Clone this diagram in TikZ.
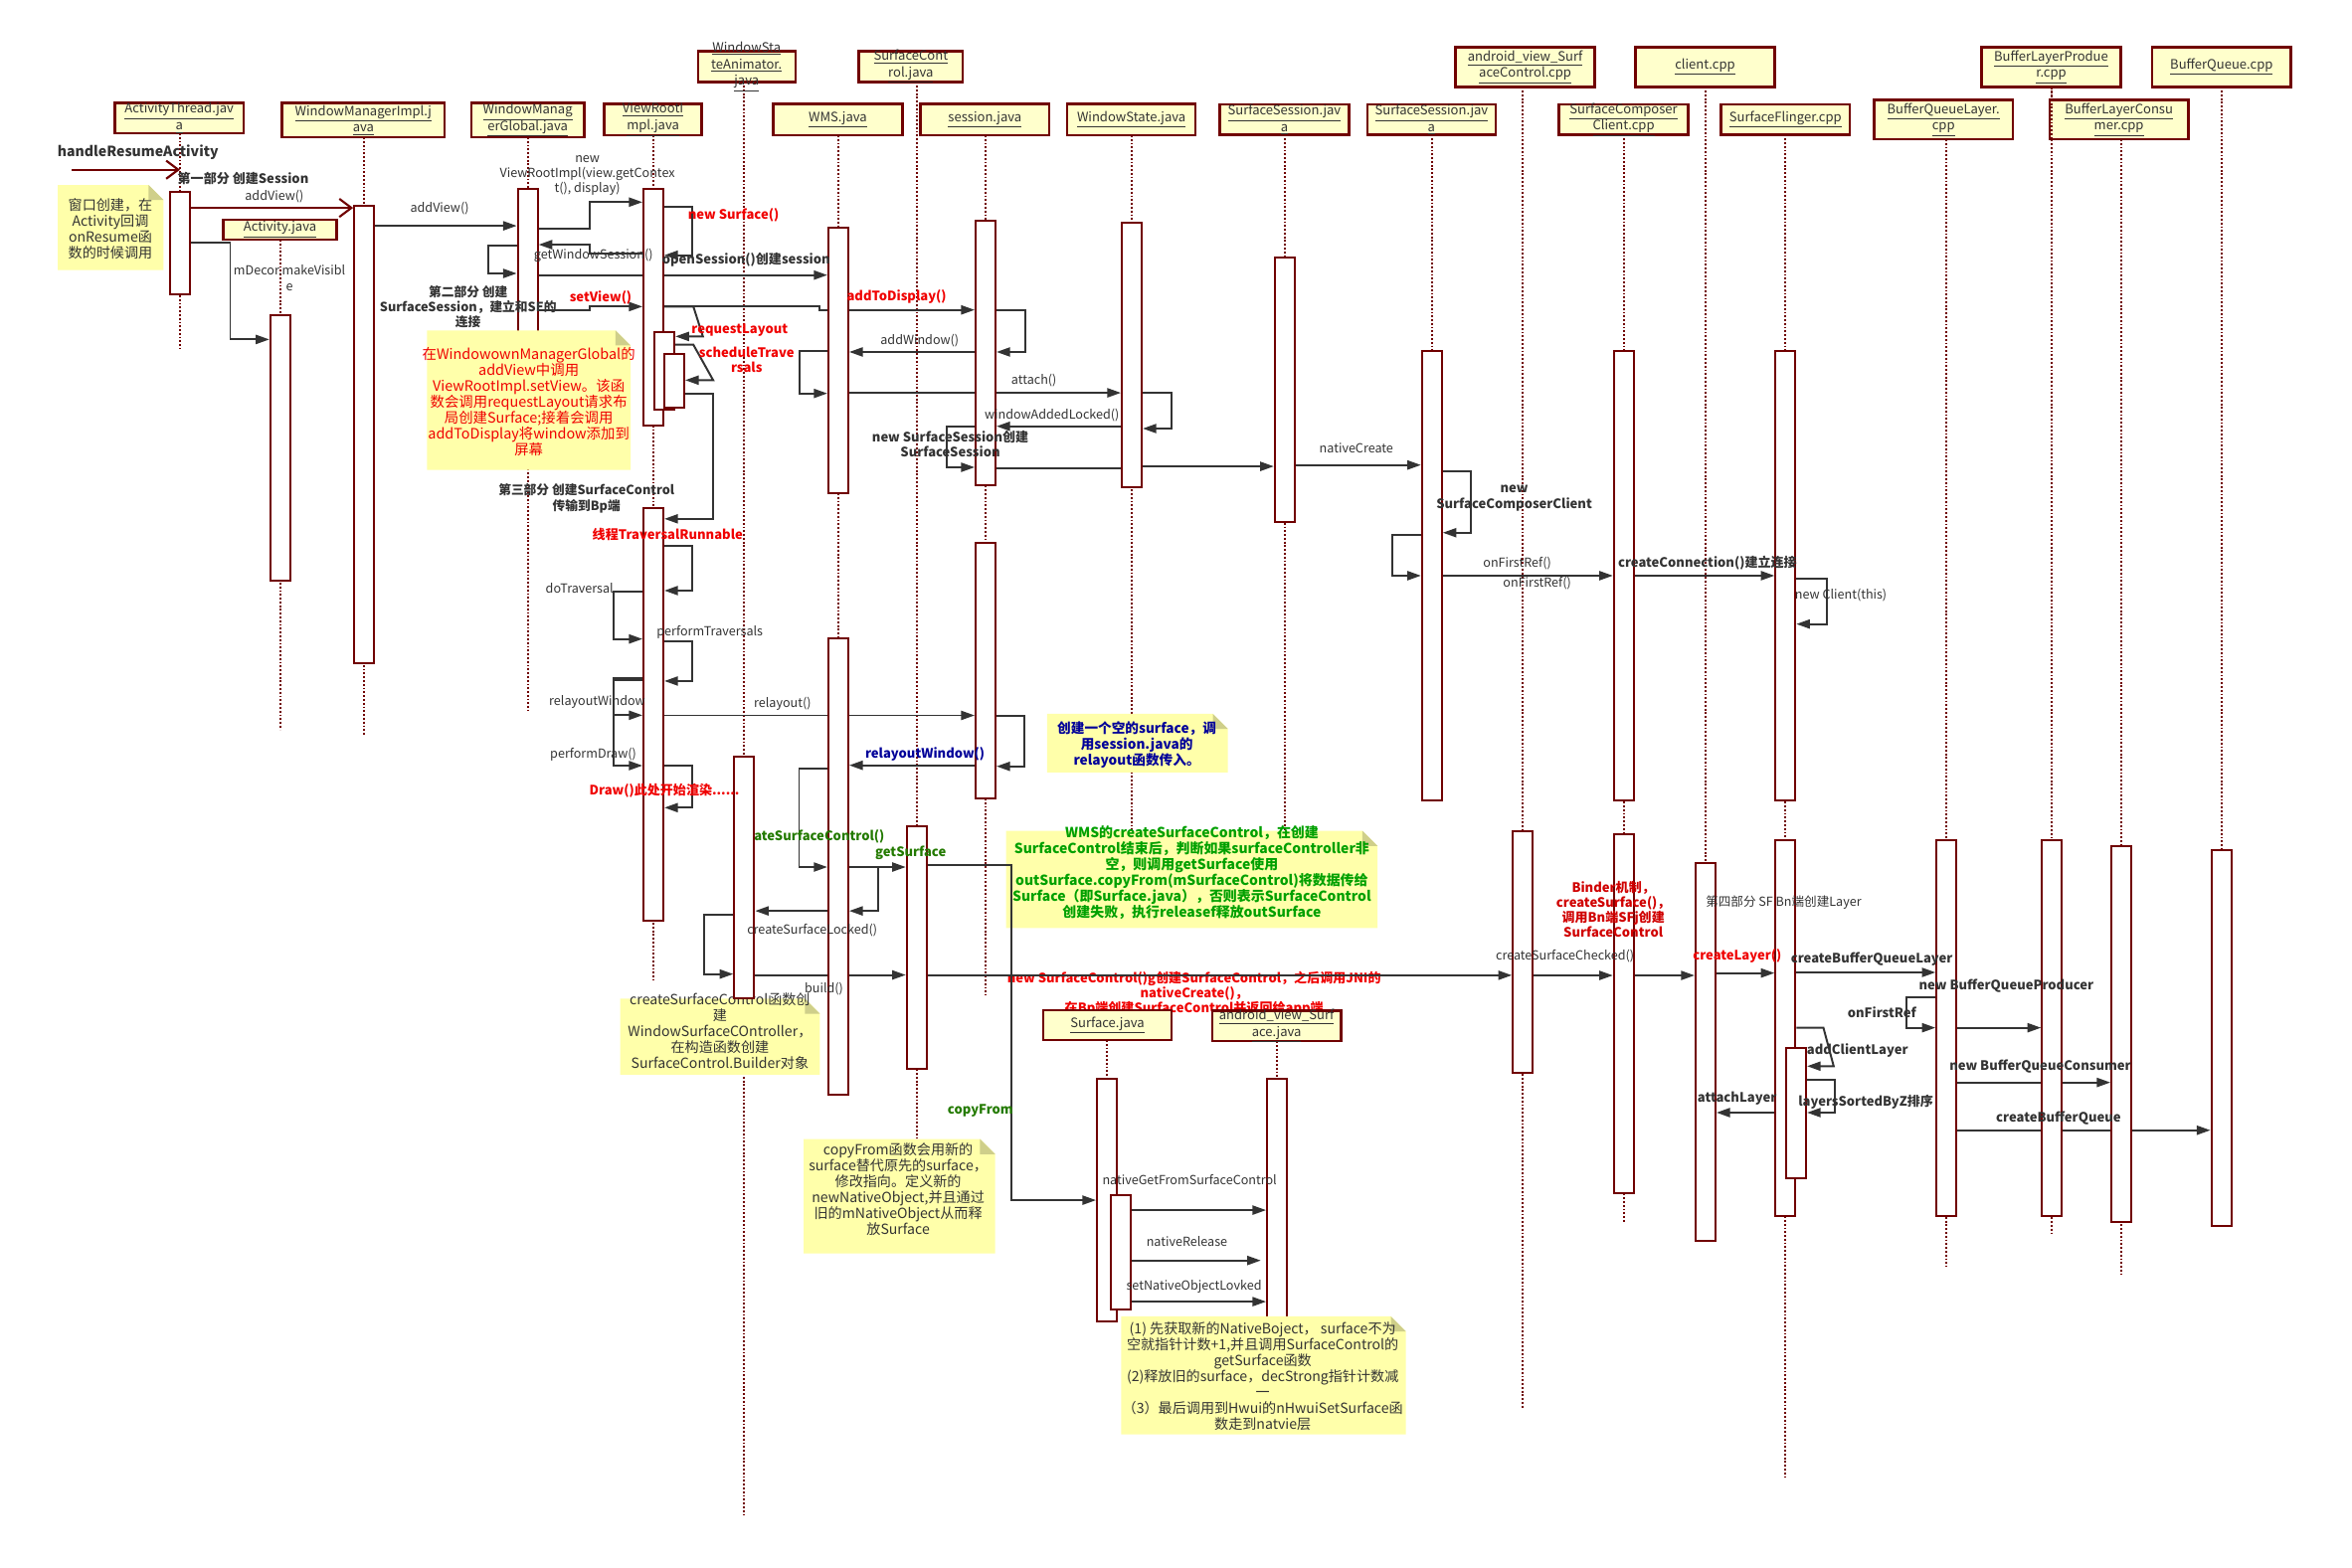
\documentclass[tikz,border=0pt]{standalone}
\usepackage{fontspec}
\setmainfont{Noto Sans CJK SC}
\usetikzlibrary{arrows.meta}
\definecolor{mr}{HTML}{700000}
\definecolor{ln}{HTML}{333333}
\definecolor{hfill}{HTML}{FFFFCC}
\definecolor{nfill}{HTML}{FFFFAA}
\definecolor{nfold}{HTML}{CFCF8A}
\definecolor{rd}{HTML}{F00000}
\definecolor{drd}{HTML}{D00000}
\definecolor{gn}{HTML}{237A00}
\definecolor{ngn}{HTML}{00A000}
\definecolor{bl}{HTML}{000099}
\newcommand\uln[1]{\underline{#1}}
\newcommand\actv[4]{\node[act,minimum height={(#4)-(#3)}] (#1) at (#2,{((#3)+(#4))/2}) {};}
\newcommand\hdr[6]{\node[hdrbox,minimum width={(#4)-(#2)},minimum height={(#5)-(#3)}] (#1) at ({((#2)+(#4))/2},{((#3)+(#5))/2}) {};\node[hdrtxt] (#1t) at (#1.center) {#6};}
\newcommand\notebox[4]{\fill[nfill] (#1,#2) -- ({(#3)-10},#2) -- (#3,{(#2)+10}) -- (#3,#4) -- (#1,#4) -- cycle; \fill[nfold] ({(#3)-10},#2) -- ({(#3)-10},{(#2)+10}) -- (#3,{(#2)+10}) -- cycle;}
\begin{document}
\begin{tikzpicture}[x=1pt,y=-1pt,
 life/.style={draw=mr,line width=1.2pt,dash pattern=on 1.2pt off 1.3pt},
 act/.style={draw=mr,fill=white,line width=1.3pt,minimum width=13.2pt,inner sep=0pt},
 hdrbox/.style={draw=mr,fill=hfill,line width=1.6pt,inner sep=0pt},
 hdrtxt/.style={text=ln,font=\fontsize{8.6}{11}\selectfont,align=center,inner sep=0pt},
 msg/.style={draw=ln,line width=1.3pt,-{Triangle[length=9pt,width=6pt]}},
 omsg/.style={draw=mr,line width=1.4pt,-{Straight Barb[length=8pt,width=12pt]}},
 lbl/.style={text=ln,font=\fontsize{8.3}{9.8}\selectfont,align=center,inner sep=0pt},
 blbl/.style={text=ln,font=\fontsize{8.6}{10}\selectfont\bfseries,align=center,inner sep=0pt},
 ntxt/.style={text=ln,font=\fontsize{9.3}{10.5}\selectfont,align=center,inner sep=0pt},
]
\fill[white] (0,0) rectangle (1560,1040);
\useasboundingbox (0,0) rectangle (1560,1040);

% ---------- lifeline x positions ----------
\path
 (119.4,0) coordinate (xAT) (241.5,0) coordinate (xWMI) (350,0) coordinate (xWMG)
 (185.9,0) coordinate (xACT) (433.4,0) coordinate (xVRI) (493.6,0) coordinate (xWSA)
 (608,0) coordinate (xSC) (556,0) coordinate (xWMS) (653.7,0) coordinate (xSES)
 (750.7,0) coordinate (xWST) (852.1,0) coordinate (xSS1) (949.7,0) coordinate (xSS2)
 (1010,0) coordinate (xAVSC) (1077,0) coordinate (xSCC) (1131.2,0) coordinate (xCL)
 (1184.2,0) coordinate (xSF) (1291,0) coordinate (xBQL) (1361,0) coordinate (xBLP)
 (1407,0) coordinate (xBLC) (1473.3,0) coordinate (xBQ) (734.2,0) coordinate (xSUR)
 (847,0) coordinate (xAVS);

% ---------- lifelines ----------
\draw[life] (xAT |- 0,88.4) -- (xAT |- 0,231.3);
\draw[life] (xWMI |- 0,91.2) -- (xWMI |- 0,487.6);
\draw[life] (xWMG |- 0,91) -- (xWMG |- 0,471.8);
\draw[life] (xACT |- 0,159) -- (xACT |- 0,484);
\draw[life] (xVRI |- 0,89.7) -- (xVRI |- 0,650);
\draw[life] (xWSA |- 0,54.3) -- (xWSA |- 0,1005);
\draw[life] (xSC |- 0,54.3) -- (xSC |- 0,760);
\draw[life] (xWMS |- 0,89.7) -- (xWMS |- 0,726);
\draw[life] (xSES |- 0,89.7) -- (xSES |- 0,660);
\draw[life] (xWST |- 0,89.7) -- (xWST |- 0,556);
\draw[life] (xSS1 |- 0,89.3) -- (xSS1 |- 0,556);
\draw[life] (xSS2 |- 0,89.3) -- (xSS2 |- 0,530);
\draw[life] (xAVSC |- 0,57.6) -- (xAVSC |- 0,935);
\draw[life] (xSCC |- 0,89.3) -- (xSCC |- 0,811);
\draw[life] (xCL |- 0,57.6) -- (xCL |- 0,823);
\draw[life] (xSF |- 0,89.3) -- (xSF |- 0,980);
\draw[life] (xBQL |- 0,92.3) -- (xBQL |- 0,840);
\draw[life] (xBLP |- 0,57.6) -- (xBLP |- 0,818);
\draw[life] (xBLC |- 0,92.3) -- (xBLC |- 0,845);
\draw[life] (xBQ |- 0,57.6) -- (xBQ |- 0,814);
\draw[life] (xSUR |- 0,690) -- (xSUR |- 0,716);
\draw[life] (xAVS |- 0,690.8) -- (xAVS |- 0,716);

% ---------- label partly covered by headers ----------
\node[blbl,text=rd] (lnsc) at (792,659.1) {new SurfaceControl()g创建SurfaceControl，之后调用JNI的\\nativeCreate()，\\在Bp端创建SurfaceControl并返回给app端};

% ---------- activations covered by notes ----------
\actv{WMG}{350}{125.3}{295}
\actv{AVS}{847}{715.7}{880}

% ---------- notes ----------
\notebox{38.4}{122.7}{108.5}{179.2}
\node[ntxt] (n1) at (73.2,151.6) {窗口创建，在\\Activity回调\\onResume函\\数的时候调用};
\notebox{283.2}{219.2}{418.2}{311.8}
\node[ntxt,text=rd,font=\fontsize{9.5}{10.57}\selectfont] (n2) at (350.7,266.5) {在WindowownManagerGlobal的\\addView中调用\\ViewRootImpl.setView。该函\\数会调用requestLayout请求布\\局创建Surface;接着会调用\\addToDisplay将window添加到\\屏幕};
\notebox{694.5}{473.5}{814.4}{512.4}
\node[ntxt,text=bl,font=\fontsize{9}{10.5}\selectfont\bfseries] (n3) at (754,494) {创建一个空的surface，调\\用session.java的\\relayout函数传入。};
\notebox{667.3}{551.2}{913.6}{615.7}
\node[ntxt,text=ngn,font=\fontsize{9.2}{10.55}\selectfont\bfseries] (n4) at (790.5,578.9) {WMS的createSurfaceControl，在创建\\SurfaceControl结束后，判断如果surfaceController非\\空，则调用getSurface使用\\outSurface.copyFrom(mSurfaceControl)将数据传给\\Surface（即Surface.java），否则表示SurfaceControl\\创建失败，执行releasef释放outSurface};
\notebox{411.3}{662.5}{543.8}{713}
\node[ntxt] (n5) at (477.5,684) {createSurfaceControl函数创\\建\\WindowSurfaceCOntroller，\\在构造函数创建\\SurfaceControl.Builder对象};
\notebox{533.1}{755.7}{660}{831.6}
\node[ntxt] (n6) at (595.7,788.8) {copyFrom函数会用新的\\surface替代原先的surface，\\修改指向。定义新的\\newNativeObject,并且通过\\旧的mNativeObject从而释\\放Surface};
\notebox{743.6}{873.3}{932.5}{951.6}
\node[ntxt] (n7) at (837.5,912.9) {(1) 先获取新的NativeBoject， surface不为\\空就指针计数+1,并且调用SurfaceControl的\\getSurface函数\\(2)释放旧的surface，decStrong指针计数减\\一\\（3）最后调用到Hwui的nHwuiSetSurface函\\数走到natvie层};

% ---------- activation geometry (invisible, for connector anchors) ----------
\begin{scope}[opacity=0]
\actv{AT}{119.4}{127.1}{195}
\actv{WMI}{241.5}{136.3}{439.8}
\actv{ACT}{185.9}{209.3}{384.9}
\actv{VRI1}{433.4}{125.3}{282.5}
\actv{VRI1a}{440.7}{220}{272}
\actv{VRI1b}{447.2}{234.6}{270.4}
\actv{VRI2}{433.4}{337}{611}
\actv{WSA}{493.6}{501.8}{662}
\actv{SC}{608}{548.2}{709}
\actv{WMS1}{556}{151.3}{327}
\actv{WMS2}{556}{423.3}{726.3}
\actv{SES1}{653.7}{146.2}{321.7}
\actv{SES2}{653.7}{360.4}{529.4}
\actv{WST}{750.7}{148}{323.4}
\actv{SS1}{852.1}{171}{346.5}
\actv{SS2}{949.7}{233}{530.7}
\actv{AVSC}{1010}{551.2}{712}
\actv{SCC1}{1077}{233}{530.7}
\actv{SCC2}{1077}{553.4}{791.8}
\actv{CL}{1131.2}{572.3}{823}
\actv{SF1}{1184.2}{233}{530.7}
\actv{SF2}{1184.2}{557.2}{806.7}
\actv{SF2a}{1191.3}{695}{781.7}
\actv{BQL}{1291}{557.2}{806.7}
\actv{BLP}{1361}{557.2}{806.7}
\actv{BLC}{1407}{561.1}{810.7}
\actv{BQ}{1473.3}{563.8}{813.5}
\actv{SUR}{734.2}{715.7}{876.7}
\actv{SURa}{743.3}{792.7}{868.5}
\end{scope}

% ---------- messages ----------
\coordinate (hr) at (47.5,112.6);
\draw[omsg] (hr) -- (hr -| xAT);
\draw[omsg] (AT.east |- 0,137.9) -- (WMI.west |- 0,137.9);
\draw[msg] (AT.east |- 0,160.7) -- (152.7,160.7) -- (152.7,225.2) -- (ACT.west |- 0,225.2);
\draw[msg] (WMI.east |- 0,149.8) -- (WMG.west |- 0,149.8);
\draw[msg] (WMG.east |- 0,151.7) -- (391.4,151.7) -- (391.4,134.1) -- (VRI1.west |- 0,134.1);
\draw[msg] (VRI1.west |- 0,168.2) -- (391.4,168.2) -- (391.4,162.3) -- (WMG.east |- 0,162.3);
\draw[msg] (WMG.west |- 0,162.7) -- (323.9,162.7) -- (323.9,181.4) -- (WMG.west |- 0,181.4);
\draw[msg] (WMG.east |- 0,182.5) -- (WMS1.west |- 0,182.5);
\draw[msg] (VRI1.east |- 0,137.4) -- (458.9,137.4) -- (458.9,169.3) -- (VRI1.east |- 0,169.3);
\draw[msg] (WMG.east |- 0,205.6) -- (391.4,205.6) -- (391.4,203.4) -- (VRI1.west |- 0,203.4);
\draw[msg] (VRI1.east |- 0,203.4) -- (543.6,203.4) -- (543.6,205.6) -- (SES1.west |- 0,205.6);
\draw[msg] (VRI1.east |- 0,203.4) -- (459.9,203.4) -- (466.2,223.2) -- (VRI1a.east |- 0,223.2);
\draw[msg] (VRI1a.east |- 0,228.7) -- (459.9,228.7) -- (473,252.2) -- (VRI1b.east |- 0,252.2);
\draw[msg] (VRI1b.east |- 0,261) -- (473,261) -- (473,344.2) -- (VRI2.east |- 0,344.2);
\draw[msg] (VRI2.east |- 0,362.1) -- (459.1,362.1) -- (459.1,391.8) -- (VRI2.east |- 0,391.8);
\draw[msg] (VRI2.west |- 0,392.5) -- (406.8,392.5) -- (406.8,423.9) -- (VRI2.west |- 0,423.9);
\draw[msg] (VRI2.east |- 0,425.5) -- (459.1,425.5) -- (459.1,451.8) -- (VRI2.east |- 0,451.8);
\draw[msg] (VRI2.west |- 0,449.6) -- (406.8,449.6) -- (406.8,474.5) -- (VRI2.west |- 0,474.5);
\draw[msg] (VRI2.west |- 0,451) -- (406.8,451) -- (406.8,507.9) -- (VRI2.west |- 0,507.9);
\draw[msg] (VRI2.east |- 0,507.9) -- (459.1,507.9) -- (459.1,535.8) -- (VRI2.east |- 0,535.8);
\draw[msg] (VRI2.east |- 0,474.6) -- (SES2.west |- 0,474.6);
\draw[msg] (SES2.east |- 0,474.7) -- (679.4,474.7) -- (679.4,508.4) -- (SES2.east |- 0,508.4);
\draw[msg] (SES2.west |- 0,507.7) -- (WMS2.east |- 0,507.7);
\draw[msg] (WMS2.west |- 0,509.8) -- (530,509.8) -- (530,575.2) -- (WMS2.west |- 0,575.2);
\draw[msg] (WMS2.east |- 0,575.2) -- (SC.west |- 0,575.2);
\draw[msg] (WMS2.east |- 0,575.2) -- (582.7,575.2) -- (582.7,604.3) -- (WMS2.east |- 0,604.3);
\draw[msg] (WMS2.west |- 0,604.3) -- (WSA.east |- 0,604.3);
\draw[msg] (WSA.west |- 0,606.6) -- (466.8,606.6) -- (466.8,646.2) -- (WSA.west |- 0,646.2);
\draw[msg] (WSA.east |- 0,646.8) -- (SC.west |- 0,646.8);
\draw[msg] (SC.east |- 0,647) -- (AVSC.west |- 0,647);
\draw[msg] (SC.east |- 0,573.6) -- (670.8,573.6) -- (670.8,796.2) -- (SUR.west |- 0,796.2);
\draw[msg] (SURa.east |- 0,802.8) -- (AVS.west |- 0,802.8);
\draw[msg,shorten >=3.5pt] (SURa.east |- 0,836.2) -- (AVS.west |- 0,836.2);
\draw[msg] (SURa.east |- 0,863.5) -- (AVS.west |- 0,863.5);
\draw[msg] (SES1.east |- 0,310.5) -- (752.6,310.5) -- (752.6,309.4) -- (SS1.west |- 0,309.4);
\draw[msg] (SES1.west |- 0,283.2) -- (627.7,283.2) -- (627.7,310) -- (SES1.west |- 0,310);
\draw[msg] (WST.west |- 0,282.8) -- (SES1.east |- 0,282.8);
\draw[msg] (WST.east |- 0,260.6) -- (777,260.6) -- (777,284.3) -- (WST.east |- 0,284.3);
\draw[msg] (WMS1.east |- 0,260.6) -- (WST.west |- 0,260.6);
\draw[msg] (WMS1.west |- 0,232.6) -- (530.3,232.6) -- (530.3,261) -- (WMS1.west |- 0,261);
\draw[msg] (SES1.west |- 0,233.5) -- (WMS1.east |- 0,233.5);
\draw[msg] (SES1.east |- 0,205.6) -- (680,205.6) -- (680,233.5) -- (SES1.east |- 0,233.5);
\draw[msg] (SS1.east |- 0,308.5) -- (SS2.west |- 0,308.5);
\draw[msg] (SS2.east |- 0,312.7) -- (975.8,312.7) -- (975.8,353.4) -- (SS2.east |- 0,353.4);
\draw[msg] (SS2.west |- 0,354.7) -- (923.4,354.7) -- (923.4,381.9) -- (SS2.west |- 0,381.9);
\draw[msg] (SS2.east |- 0,381.9) -- (SCC1.west |- 0,381.9);
\draw[msg] (SCC1.east |- 0,381.9) -- (SF1.west |- 0,381.9);
\draw[msg] (SF1.east |- 0,384) -- (1211.5,384) -- (1211.5,414) -- (SF1.east |- 0,414);
\draw[msg] (AVSC.east |- 0,647.1) -- (SCC2.west |- 0,647.1);
\draw[msg] (SCC2.east |- 0,647.1) -- (CL.west |- 0,647.1);
\draw[msg] (CL.east |- 0,645.5) -- (SF2.west |- 0,645.5);
\draw[msg] (SF2.east |- 0,645.1) -- (BQL.west |- 0,645.1);
\draw[msg] (BQL.west |- 0,661.4) -- (1264.7,661.4) -- (1264.7,681.8) -- (BQL.west |- 0,681.8);
\draw[msg] (BQL.east |- 0,681.8) -- (BLP.west |- 0,681.8);
\draw[msg] (SF2.east |- 0,681.8) -- (1209.4,681.8) -- (1216.2,707.3) -- (SF2a.east |- 0,707.3);
\draw[msg] (SF2a.east |- 0,716.2) -- (1217,716.2) -- (1217,738.1) -- (SF2a.east |- 0,738.1);
\draw[msg] (SF2a.west |- 0,738.1) -- (CL.east |- 0,738.1);
\draw[msg] (BQL.east |- 0,718.1) -- (BLC.west |- 0,718.1);
\draw[msg] (BQL.east |- 0,749.8) -- (BQ.west |- 0,749.8);

% ---------- activations (visible) ----------
\foreach \n/\x/\a/\b in {AT/119.4/127.1/195, WMI/241.5/136.3/439.8, ACT/185.9/209.3/384.9,
  VRI1/433.4/125.3/282.5, VRI1a/440.7/220/272, VRI1b/447.2/234.6/270.4, VRI2/433.4/337/611,
  WSA/493.6/501.8/662, SC/608/548.2/709, WMS1/556/151.3/327, WMS2/556/423.3/726.3,
  SES1/653.7/146.2/321.7, SES2/653.7/360.4/529.4, WST/750.7/148/323.4, SS1/852.1/171/346.5,
  SS2/949.7/233/530.7, AVSC/1010/551.2/712, SCC1/1077/233/530.7, SCC2/1077/553.4/791.8,
  CL/1131.2/572.3/823, SF1/1184.2/233/530.7, SF2/1184.2/557.2/806.7, SF2a/1191.3/695/781.7,
  BQL/1291/557.2/806.7, BLP/1361/557.2/806.7, BLC/1407/561.1/810.7, BQ/1473.3/563.8/813.5,
  SUR/734.2/715.7/876.7, SURa/743.3/792.7/868.5}
  {\node[act,minimum height={\b-\a}] (v\n) at (\x,{(\a+\b)/2}) {};}

% ---------- labels ----------
\begin{scope}
\clip (501.2,540) rectangle (620,570);
\node[blbl,text=gn,anchor=west] (lcsc) at (486.5,555.3) {createSurfaceControl()};
\end{scope}
\node[blbl,font=\fontsize{9.3}{10}\selectfont\bfseries] (l1) at (91.5,101) {handleResumeActivity};
\node[blbl] (l2) at (161.3,118.5) {第一部分 创建Session};
\node[lbl] (l3) at (182,130.4) {addView()};
\node[lbl,font=\fontsize{8.3}{10.8}\selectfont] (l4) at (192,184.4) {mDecor.makeVisibl\\e};
\node[lbl] (l5) at (291.6,138.5) {addView()};
\node[lbl] (l6) at (389.6,116.4) {new\\ViewRootImpl(view.getContex\\t(), display)};
\node[lbl] (l7) at (393.6,169.7) {getWindowSession()};
\node[blbl] (l8) at (494.9,172.4) {openSession()创建session};
\node[blbl,text=rd] (l9) at (486.5,142.9) {new Surface()};
\node[blbl,font=\fontsize{8.4}{9.7}\selectfont\bfseries] (l10) at (310.5,203.6) {第二部分 创建\\SurfaceSession，建立和SE的\\连接};
\node[blbl,text=rd] (l11) at (398.4,197.2) {setView()};
\node[blbl,text=rd] (l12) at (594.7,197) {addToDisplay()};
\node[blbl,text=rd] (l13) at (490.6,218.8) {requestLayout};
\node[blbl,text=rd] (l14) at (495.2,238.8) {scheduleTrave\\rsals};
\node[blbl,font=\fontsize{8.4}{10.4}\selectfont\bfseries] (l15) at (389,330.6) {第三部分 创建SurfaceControl\\传输到Bp端};
\node[blbl,text=rd] (l16) at (442.8,354.7) {线程TraversalRunnable};
\node[lbl,anchor=east] (l17) at (407,390.3) {doTraversal};
\node[lbl] (l18) at (470.8,419.3) {performTraversals};
\node[lbl] (l19) at (396.1,465.5) {relayoutWindow};
\node[lbl] (l20) at (393.5,500.2) {performDraw()};
\node[blbl,text=rd] (l21) at (440.7,524.4) {Draw()此处开始渲染......};
\node[lbl] (l22) at (519,467.2) {relayout()};
\node[blbl,text=bl] (l23) at (613.5,500) {relayoutWindow()};
\node[blbl,text=gn] (l24) at (604,565.6) {getSurface};
\node[lbl] (l25) at (538.7,616.8) {createSurfaceLocked()};
\node[lbl] (l26) at (546.5,656) {build()};
\node[blbl,text=gn] (l27) at (650.3,736.6) {copyFrom};
\node[lbl] (l28) at (789,782.8) {nativeGetFromSurfaceControl};
\node[lbl] (l29) at (787.2,823.4) {nativeRelease};
\node[lbl] (l30) at (791.9,853.8) {setNativeObjectLovked};
\node[blbl] (l31) at (630.3,294.7) {new SurfaceSession创建\\SurfaceSession};
\node[lbl] (l32) at (697.7,275.3) {windowAddedLocked()};
\node[lbl] (l33) at (685.8,252.4) {attach()};
\node[lbl] (l34) at (610,226) {addWindow()};
\node[lbl] (l35) at (899.6,297.3) {nativeCreate};
\node[blbl] (l36) at (1004.3,330.5) {new\\SurfaceComposerClient};
\node[lbl] (l37) at (1006.3,373.6) {onFirstRef()};
\node[lbl] (l38) at (1019.5,387) {onFirstRef()};
\node[blbl,anchor=west] (l39) at (1073,373.6) {createConnection()建立连接};
\node[lbl] (l40) at (1221,395) {new Client(this)};
\node[lbl] (l41) at (1038,634.2) {createSurfaceChecked()};
\node[blbl,text=rd] (l42) at (1152.2,634.2) {createLayer()};
\node[blbl,text=drd] (l43) at (1070,603.3) {Binder机制，\\createSurface()，\\调用Bn端SFj创建\\SurfaceControl};
\node[lbl,anchor=west] (l44) at (1131.2,598.5) {第四部分 SF Bn端创建Layer};
\node[blbl] (l45) at (1241.5,636.3) {createBufferQueueLayer};
\node[blbl] (l46) at (1248.2,671.3) {onFirstRef};
\node[blbl] (l47) at (1330.7,654.2) {new BufferQueueProducer};
\node[blbl] (l48) at (1232,697) {addClientLayer};
\node[blbl] (l49) at (1237.5,731.3) {layersSortedByZ排序};
\node[blbl] (l50) at (1152.1,728.9) {attachLayer};
\node[blbl] (l51) at (1353.2,707.6) {new BufferQueueConsumer};
\node[blbl] (l52) at (1365.3,741.6) {createBufferQueue};

% ---------- headers ----------
\hdr{hAT}{76.2}{68.2}{161.6}{88.4}{\uln{ActivityThread.jav}\\\uln{a}}
\hdr{hWMI}{187}{68.2}{295}{91.2}{\uln{WindowManagerImpl.j}\\\uln{ava}}
\hdr{hWMG}{312.5}{68.2}{387.5}{91}{\uln{WindowManag}\\\uln{erGlobal.java}}
\hdr{hACT}{148.2}{145.6}{223.2}{159}{\uln{Activity.java}}
\hdr{hVRI}{400.8}{69}{465.4}{89.7}{\uln{ViewRootI}\\\uln{mpl.java}}
\hdr{hWSA}{462.9}{34.1}{527.5}{54.3}{\uln{WindowSta}\\\uln{teAnimator.}\\\uln{java}}
\hdr{hSC}{569.7}{34.1}{638.5}{54.3}{\uln{SurfaceCont}\\\uln{rol.java}}
\hdr{hWMS}{512.9}{69}{598.5}{89.7}{\uln{WMS.java}}
\hdr{hSES}{610.6}{69}{695.9}{89.7}{\uln{session.java}}
\hdr{hWST}{707.8}{69}{793}{89.7}{\uln{WindowState.java}}
\hdr{hSS1}{809}{69.3}{894.7}{89.3}{\uln{SurfaceSession.jav}\\\uln{a}}
\hdr{hSS2}{906.9}{69.3}{992}{89.3}{\uln{SurfaceSession.jav}\\\uln{a}}
\hdr{hAVSC}{965.4}{31.2}{1057.8}{57.6}{\uln{android\_view\_Surf}\\\uln{aceControl.cpp}}
\hdr{hSCC}{1034}{69.3}{1119.7}{89.3}{\uln{SurfaceComposer}\\\uln{Client.cpp}}
\hdr{hCL}{1084.8}{31.2}{1177}{57.6}{\uln{client.cpp}}
\hdr{hSF}{1141.4}{69.3}{1227}{89.3}{\uln{SurfaceFlinger.cpp}}
\hdr{hBQL}{1243}{66.4}{1335}{92.3}{\uln{BufferQueueLayer.}\\\uln{cpp}}
\hdr{hBLP}{1314.3}{31.2}{1406.6}{57.6}{\uln{BufferLayerProdue}\\\uln{r.cpp}}
\hdr{hBLC}{1359.3}{66.4}{1451.5}{92.3}{\uln{BufferLayerConsu}\\\uln{mer.cpp}}
\hdr{hBQ}{1427.4}{31.2}{1519.5}{57.6}{\uln{BufferQueue.cpp}}
\hdr{hSUR}{692}{670}{777}{690}{\uln{Surface.java}}
\hdr{hAVS}{804}{670.6}{889.4}{690.8}{\uln{android\_view\_Surf}\\\uln{ace.java}}
\draw[life] (hBLP.south -| xBLP) -- (hBLC.south -| xBLP);
\end{tikzpicture}
\end{document}
